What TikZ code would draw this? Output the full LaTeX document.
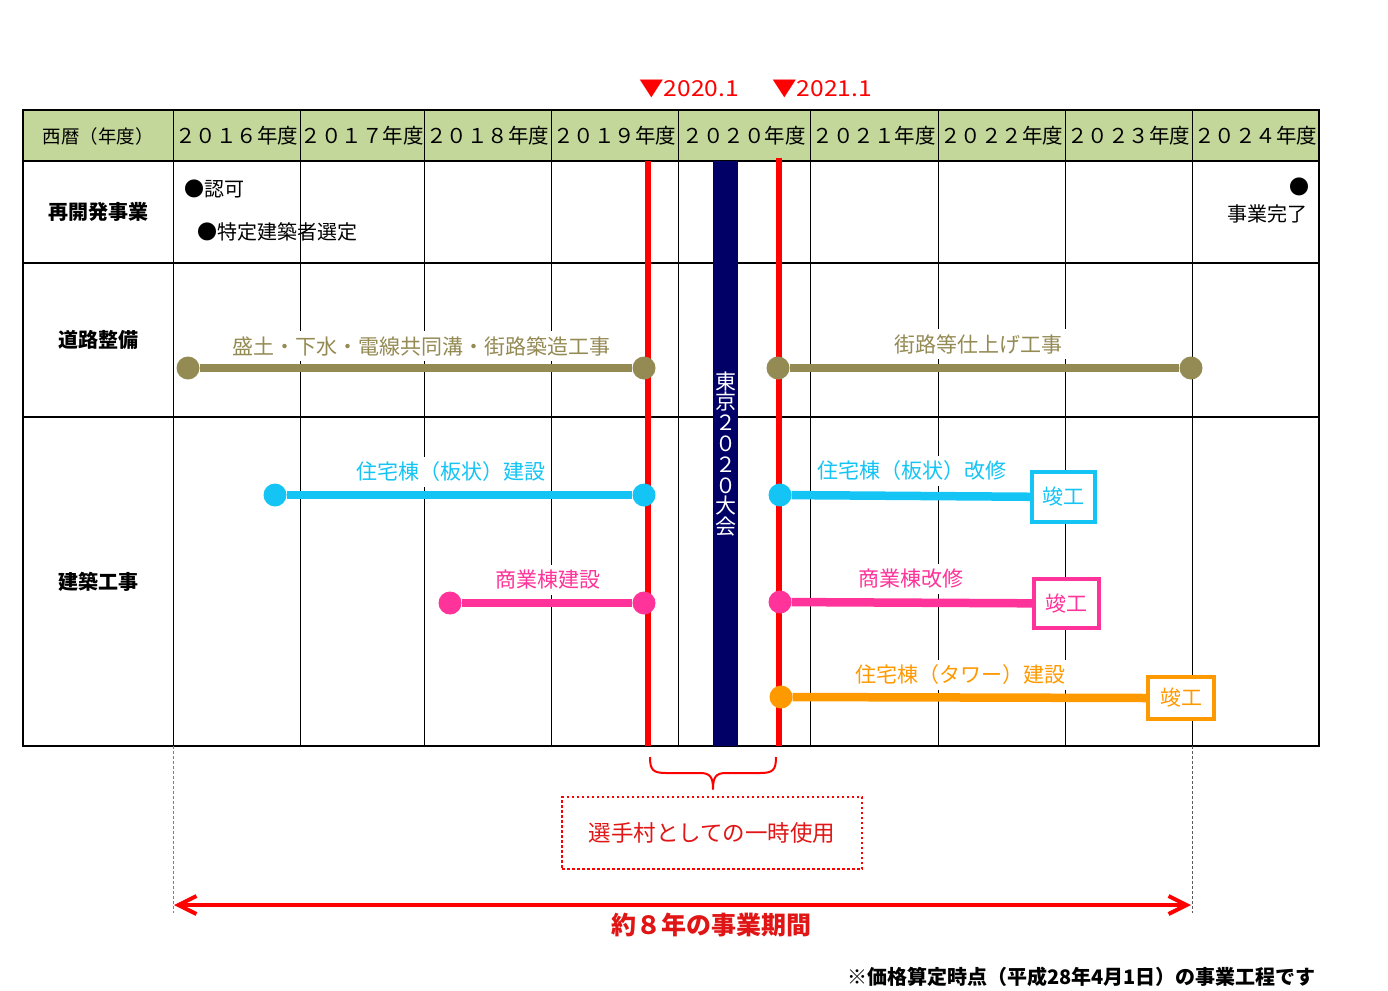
\documentclass[tikz,border=0pt]{standalone}
\usepackage{fontspec}
\usepackage{graphicx}
\setmainfont{Noto Sans CJK JP}
\usetikzlibrary{arrows.meta}
\newcommand\myfs[1]{\fontsize{#1}{#1}\selectfont}
\definecolor{hdr}{HTML}{C4D79B}
\definecolor{olv}{HTML}{948A54}
\definecolor{cya}{HTML}{14C4F4}
\definecolor{pnk}{HTML}{FF3399}
\definecolor{org}{HTML}{FF9900}
\definecolor{rd}{HTML}{FF0000}
\definecolor{rdt}{HTML}{E01515}
\definecolor{nvy}{HTML}{000066}
\tikzset{
  gridline/.style={draw=black, line width=1},
  hdrtext/.style={font=\myfs{20.5}, inner sep=0},
  rowlab/.style={font=\bfseries\myfs{20}, inner sep=0},
  plain/.style={font=\myfs{20}, inner sep=0},
  lbl/.style={font=\myfs{21}, fill=white, inner xsep=4, inner ysep=5},
  dot/.style={circle, minimum size=23, inner sep=0, draw=none},
  bar/.style={line width=8.5},
  kbox/.style={draw, line width=4, fill=white, font=\myfs{21}, inner sep=0},
  redv/.style={draw=rd, line width=5.5},
  datelab/.style={font=\myfs{22}, text=rd, inner sep=0, anchor=west},
}
\begin{document}
\begin{tikzpicture}[x=1pt,y=-1pt]
\useasboundingbox (0,0) rectangle (1388,990);
% header fill
\fill[hdr] (23,110) rectangle (1319,161);
% grid
\foreach \x in {173,300,424,551,678,810,938,1065,1192}
  \draw[gridline] (\x,110) -- (\x,746);
\foreach \y in {161,263,417}
  \draw[line width=1.3] (23,\y) -- (1319,\y);
\draw[line width=2.2] (23,110) rectangle (1319,746);
% header texts
\node[font=\myfs{18.5}, inner sep=0] (h0) at (98,136) {西暦（年度）};
\foreach \x/\t [count=\i] in {236.5/２０１６年度,362/２０１７年度,487.5/２０１８年度,614.5/２０１９年度,744/２０２０年度,874/２０２１年度,1001.5/２０２２年度,1128.5/２０２３年度,1255.5/２０２４年度}
  \node[hdrtext] (h\i) at (\x,136) {\t};
% date markers
\node[datelab] (d1) at (639,89) {\scalebox{1.12}[1]{▼2020.1}};
\node[datelab] (d2) at (772,89) {\scalebox{1.12}[1]{▼2021.1}};
% row labels
\node[rowlab] (r1) at (98,212) {再開発事業};
\node[rowlab] (r2) at (98,340) {道路整備};
\node[rowlab] (r3) at (98,582) {建築工事};
% row 1 items
\node[plain, anchor=west] (e1) at (184,189) {●認可};
\node[plain, anchor=west] (e2) at (197,232) {●特定建築者選定};
\node[plain] (e3) at (1299,187) {●};
\node[plain] (e4) at (1267,214) {事業完了};
% red lines and navy bar
\coordinate (v1t) at (648,161); \coordinate (v1b) at (648,746);
\coordinate (v2t) at (779,158); \coordinate (v2b) at (779,746);
\draw[redv] (v1t) -- (v1b);
\draw[redv] (v2t) -- (v2b);
\fill[nvy] (713,161) rectangle (738,746);
\node[text=white, align=center, inner sep=0, font={\fontsize{21}{20.8}\selectfont}] (tokyo) at (725.5,454)
  {東\\京\\２\\０\\２\\０\\大\\会};
% row 2: road works
\node[lbl, text=olv] (l1) at (421,346) {盛土・下水・電線共同溝・街路築造工事};
\node[lbl, text=olv] (l2) at (978,344) {街路等仕上げ工事};
\node[dot, fill=olv] (o1) at (188,368) {};
\node[dot, fill=olv] (o2) at (644,368) {};
\node[dot, fill=olv] (o3) at (778,368) {};
\node[dot, fill=olv] (o4) at (1191,368) {};
\draw[bar, olv] (o1) -- (o2);
\draw[bar, olv] (o3) -- (o4);
% row 3: buildings
\node[lbl, text=cya] (l3) at (451,472) {住宅棟（板状）建設};
\node[lbl, text=cya] (l4) at (912,471) {住宅棟（板状）改修};
\node[lbl, text=pnk] (l5) at (548,580) {商業棟建設};
\node[lbl, text=pnk] (l6) at (911,579) {商業棟改修};
\node[lbl, text=org] (l7) at (960,675) {住宅棟（タワー）建設};
\node[kbox, draw=cya, text=cya, minimum width=63, minimum height=50] (k1) at (1063.5,497) {竣工};
\node[kbox, draw=pnk, text=pnk, minimum width=65, minimum height=49] (k2) at (1066.5,603.5) {竣工};
\node[kbox, draw=org, text=org, minimum width=66, minimum height=42] (k3) at (1181,698) {竣工};
\node[dot, fill=cya] (c1) at (275,495) {};
\node[dot, fill=cya] (c2) at (644,495) {};
\node[dot, fill=cya] (c3) at (780,495) {};
\draw[bar, cya] (c1) -- (c2);
\draw[bar, cya] (c3) -- (k1);
\node[dot, fill=pnk] (p1) at (450,603) {};
\node[dot, fill=pnk] (p2) at (644,603) {};
\node[dot, fill=pnk] (p3) at (780,602) {};
\draw[bar, pnk] (p1) -- (p2);
\draw[bar, pnk] (p3) -- (k2);
\node[dot, fill=org] (g1) at (781,697) {};
\draw[bar, org] (g1) -- (k3.west);
% brace
\coordinate (bl) at (650,757);
\coordinate (br) at (776,757);
\coordinate (bt) at (713,789);
\draw[rd, line width=2, line join=round] (bl) .. controls (650,770) and (653,773) .. (666,773)
  -- (700,773) .. controls (710,773) and (713,777) .. (bt)
  .. controls (713,777) and (716,773) .. (726,773) -- (760,773)
  .. controls (773,773) and (776,770) .. (br);
% village box
\node[draw=rd, line width=2.5, dash pattern=on 2.5pt off 2.5pt, text=rdt,
  minimum width=300, minimum height=72, font=\myfs{22.5}] (vil) at (712,833) {選手村としての一時使用};
% period arrow
\coordinate (dl1) at (173,746); \coordinate (dl2) at (173,913);
\coordinate (dr1) at (1192,746); \coordinate (dr2) at (1192,913);
\draw[gray, line width=1, dash pattern=on 3pt off 2pt] (dl1) -- (dl2);
\draw[gray!70!black, line width=1, dash pattern=on 3pt off 2pt] (dr1) -- (dr2);
\coordinate (aL) at (174,905); \coordinate (aR) at (1191,905);
\draw[rd, line width=4, {Straight Barb[length=18pt,width=18pt]}-{Straight Barb[length=18pt,width=18pt]}] (aL) -- (aR);
\node[text=rdt, font=\bfseries\myfs{25}, inner sep=0] (per) at (711,925) {約８年の事業期間};
% footnote
\node[font=\bfseries\myfs{20}, inner sep=0, anchor=east] (note) at (1316,977) {※価格算定時点（平成28年4月1日）の事業工程です};
\end{tikzpicture}
\end{document}
